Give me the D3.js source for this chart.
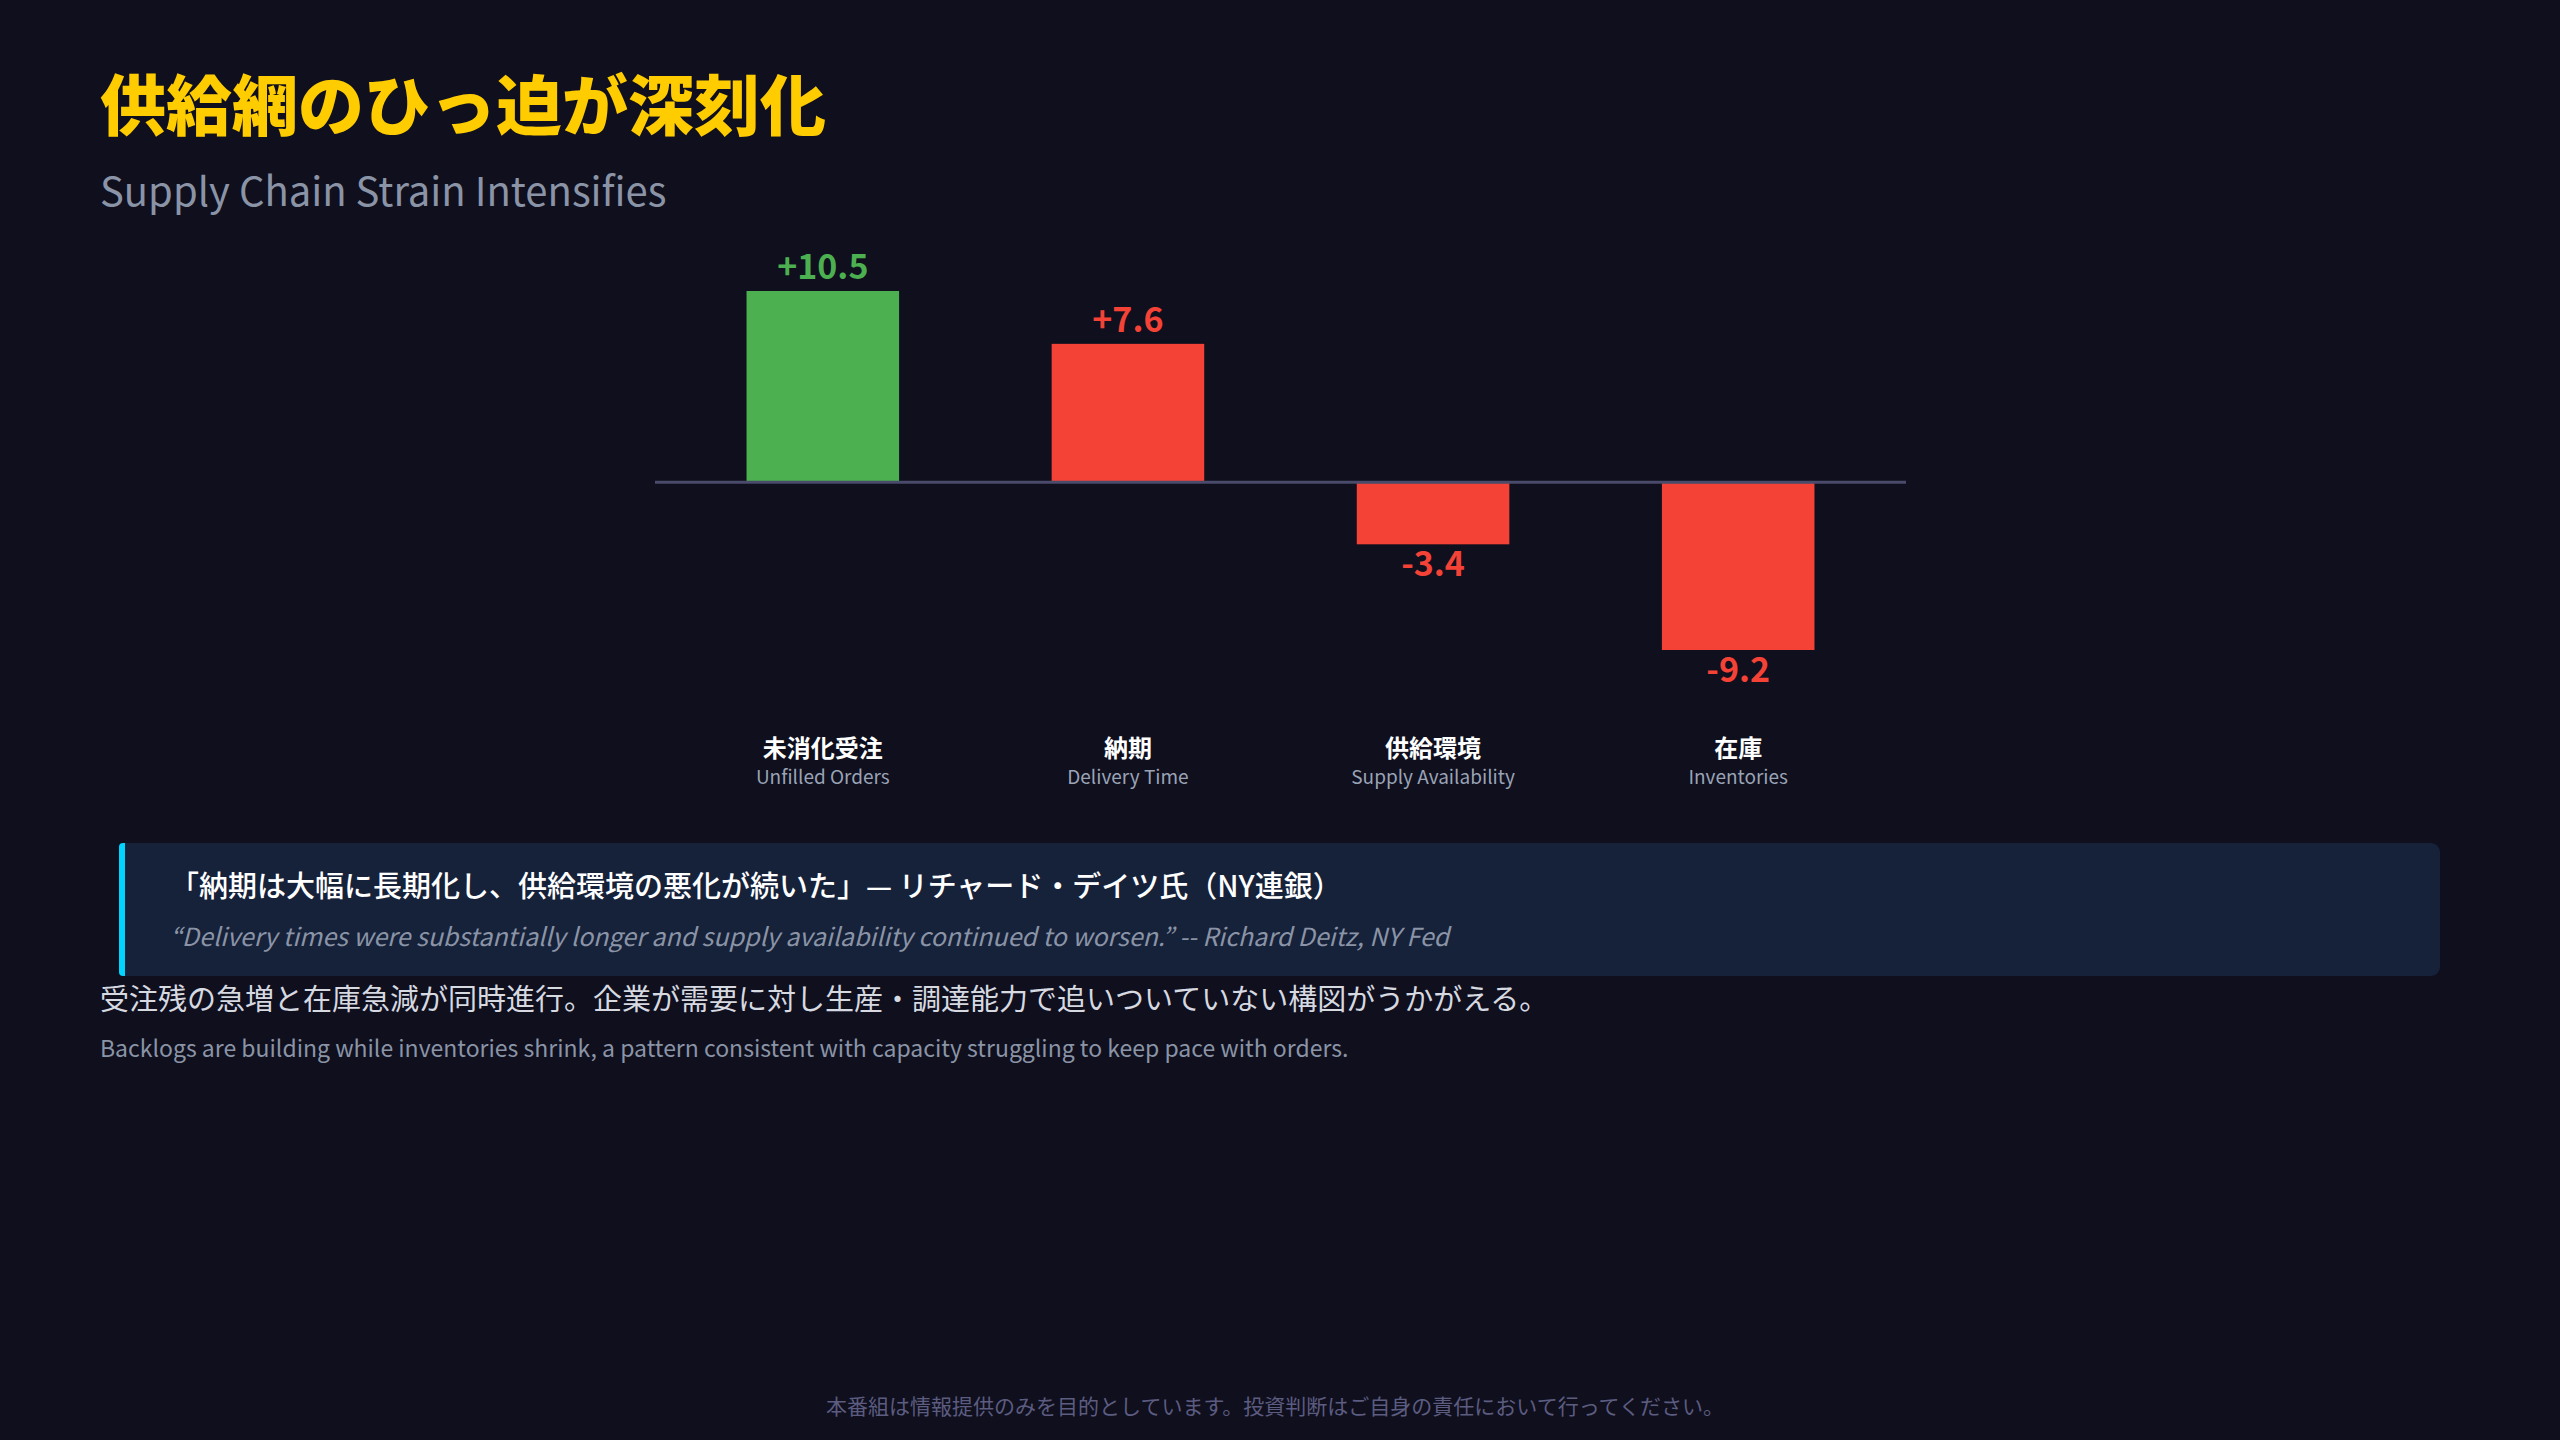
<!DOCTYPE html>
<html><head><meta charset="utf-8">
<script src="https://cdn.jsdelivr.net/npm/d3@7"></script>
<style>html,body{margin:0;background:#0f0f1e;}svg{display:block}</style>
</head><body>
<svg id="c" width="2560" height="1440"></svg>
<script>
const categoriesJa = ["未消化受注","納期","供給環境","在庫"];
const categoriesEn = ["Unfilled Orders","Delivery Time","Supply Availability","Inventories"];
const values = [10.5, 7.6, -3.4, -9.2];
const labels = ["+10.5","+7.6","-3.4","-9.2"];
const colors = ["#4CAF50","#F44336","#F44336","#F44336"];

const F = "'Noto Sans CJK JP','Noto Sans',sans-serif";
const svg = d3.select("#c");
svg.append("rect").attr("width",2560).attr("height",1440).attr("fill","#0f0f1e");

svg.append("text").attr("x",100).attr("y",130).attr("fill","#FFCC00").attr("font-family",F)
  .attr("font-weight",900).attr("font-size",66).text("供給網のひっ迫が深刻化");
svg.append("text").attr("x",100).attr("y",206).attr("fill","#8a94a6").attr("font-family",F)
  .attr("font-size",40).text("Supply Chain Strain Intensifies");

const x = d3.scaleBand().domain(categoriesJa).range([655,1906]).paddingInner(0.5).paddingOuter(0.3);
const y = d3.scaleLinear().domain([-9.2,10.5]).range([650,291]);

svg.selectAll("rect.bar").data(values).enter().append("rect").attr("class","bar")
  .attr("x",(d,i)=>x(categoriesJa[i])).attr("width",x.bandwidth())
  .attr("y",d=>y(Math.max(0,d))).attr("height",d=>Math.abs(y(d)-y(0)))
  .attr("fill",(d,i)=>colors[i]);

svg.append("line").attr("x1",655).attr("x2",1906).attr("y1",y(0)).attr("y2",y(0))
  .attr("stroke","#4a4a6a").attr("stroke-width",3);

svg.selectAll("text.val").data(values).enter().append("text").attr("class","val")
  .attr("x",(d,i)=>x(categoriesJa[i])+x.bandwidth()/2)
  .attr("y",d=>d>=0? y(d)-12 : y(d)+32)
  .attr("text-anchor","middle").attr("font-family",F).attr("font-weight",700).attr("font-size",34)
  .attr("fill",(d,i)=>colors[i]).text((d,i)=>labels[i]);

categoriesJa.forEach((c,i)=>{
  const cx = x(c)+x.bandwidth()/2;
  svg.append("text").attr("x",cx).attr("y",757).attr("text-anchor","middle").attr("font-family",F)
    .attr("font-weight",700).attr("font-size",24).attr("fill","#ffffff").text(c);
  svg.append("text").attr("x",cx).attr("y",784).attr("text-anchor","middle").attr("font-family",F)
    .attr("font-size",19).attr("fill","#9aa3b5").text(categoriesEn[i]);
});

svg.append("rect").attr("x",119).attr("y",843).attr("width",2321).attr("height",133).attr("rx",9).attr("fill","#16213a");
svg.append("rect").attr("x",119).attr("y",843).attr("width",10).attr("height",133).attr("rx",4).attr("fill","#00d4ff");
svg.append("rect").attr("x",125).attr("y",843).attr("width",10).attr("height",133).attr("fill","#16213a");
svg.append("text").attr("x",170).attr("y",897).attr("fill","#ffffff").attr("font-family",F)
  .attr("font-weight",500).attr("font-size",29).text("「納期は大幅に長期化し、供給環境の悪化が続いた」— リチャード・デイツ氏（NY連銀）");
svg.append("text").attr("x",170).attr("y",946).attr("fill","#8a94a6").attr("font-family",F)
  .attr("font-style","italic").attr("font-size",25).text("“Delivery times were substantially longer and supply availability continued to worsen.” -- Richard Deitz, NY Fed");

svg.append("text").attr("x",100).attr("y",1010).attr("fill","#d6d9e0").attr("font-family",F)
  .attr("font-size",29).text("受注残の急増と在庫急減が同時進行。企業が需要に対し生産・調達能力で追いついていない構図がうかがえる。");
svg.append("text").attr("x",100).attr("y",1057).attr("fill","#8a94a6").attr("font-family",F)
  .attr("font-size",23).text("Backlogs are building while inventories shrink, a pattern consistent with capacity struggling to keep pace with orders.");

svg.append("text").attr("x",1275).attr("y",1414).attr("text-anchor","middle").attr("fill","#5c5c80").attr("font-family",F)
  .attr("font-size",21).text("本番組は情報提供のみを目的としています。投資判断はご自身の責任において行ってください。");
</script>
</body></html>
